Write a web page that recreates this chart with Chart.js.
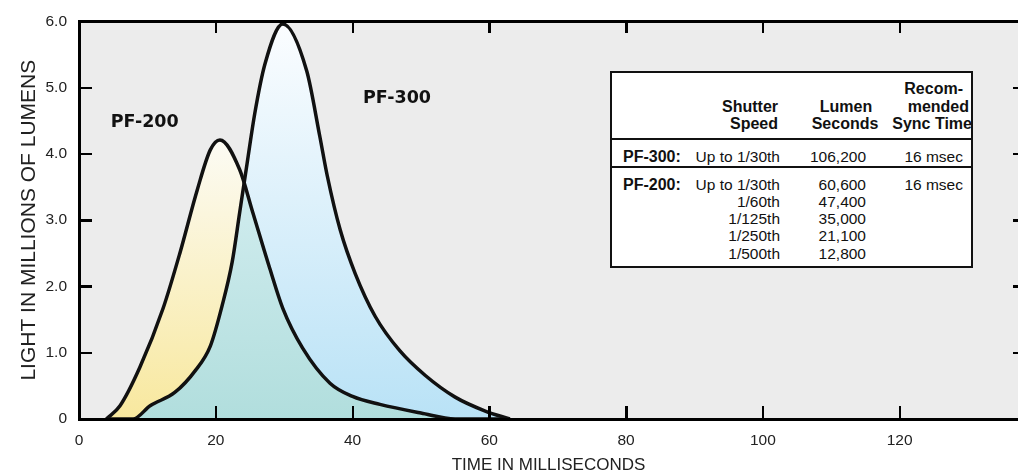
<!DOCTYPE html>
<html>
<head>
<meta charset="utf-8">
<script src="https://cdn.jsdelivr.net/npm/chart.js@4.4.1/dist/chart.umd.min.js"></script>
<style>
    html, body { margin: 0; padding: 0; background: #fff; }
    #wrap { position: relative; width: 1018px; height: 472px; overflow: hidden; }
    #flashChart { position: absolute; left: 0; top: 0; }
    #frame { position: absolute; left: 0; top: 0; width: 1018px; height: 472px; pointer-events: none; }
    #frame div { position: absolute; background: #000; }
    #lumenTable { position: absolute; left: 610px; top: 71px; width: 359px; height: 193px; border: 2px solid #111; background: #fff; }
    .cell { position: absolute; white-space: nowrap; font-family: "Liberation Sans", Arial, sans-serif; font-size: 15.5px; line-height: 17px; color: #111; }
    .bold { font-weight: bold; font-size: 16px; }
    .rule { position: absolute; left: 610px; width: 363px; height: 2px; background: #111; }
    #err { position: absolute; left: 620px; top: 300px; width: 390px; font: 12px monospace; color: #c00; }
</style>
</head>
<body>
<div id="wrap">
    <canvas id="flashChart" width="1018" height="472"></canvas>
    <div id="frame"></div>
    <div id="lumenTable"></div>
    <div id="err"></div>
</div>
<script>
window.addEventListener('error', (e) => {
    document.getElementById('err').textContent += ' ERR: ' + e.message;
});

// light output curves (time in ms, light in millions of lumens)
const pf300Time  = [4, 7.9, 10.4, 14.0, 17.0, 19.2, 20.9, 22.4, 23.5, 24.6, 25.7, 27.2, 29.8, 33.3, 35.2, 36.3, 38.2, 40.4, 43.3, 46.9, 50.6, 55.0, 59.4, 63];
const pf300Light = [0, 0, 0.20, 0.40, 0.73, 1.10, 1.70, 2.37, 3.12, 3.87, 4.61, 5.36, 5.96, 5.25, 4.27, 3.67, 2.85, 2.19, 1.55, 1.03, 0.66, 0.33, 0.12, 0];

const pf200Time  = [4, 6.0, 8.9, 12.3, 14.8, 17.3, 19.2, 20.6, 23.5, 25.4, 27.9, 29.8, 32.7, 36.7, 40.0, 44.0, 50.0, 55, 63];
const pf200Light = [0, 0.20, 0.78, 1.67, 2.52, 3.46, 4.06, 4.21, 3.76, 3.12, 2.27, 1.67, 1.07, 0.54, 0.34, 0.22, 0.09, 0, 0];

const xTicks = [0, 20, 40, 60, 80, 100, 120];
const yTicks = [0, 1, 2, 3, 4, 5, 6];

const curveLabels = ['PF-200', 'PF-300'];
const curveLabelX = [9.6, 46.5];
const curveLabelY = [4.47, 4.84];

// table
const headShutter = ['Shutter', 'Speed'];
const headLumens = ['Lumen', 'Seconds'];
const headSync = ['Recom-', 'mended', 'Sync Time'];
const pf300Shutter = ['Up to 1/30th'];
const pf300Lumens = ['106,200'];
const pf300Sync = ['16 msec'];
const pf200Shutter = ['Up to 1/30th', '1/60th', '1/125th', '1/250th', '1/500th'];
const pf200Lumens = ['60,600', '47,400', '35,000', '21,100', '12,800'];
const pf200Sync = ['16 msec', '', '', '', ''];

function toPoints(xs, ys) {
    return xs.map((x, i) => ({ x: x, y: ys[i] }));
}

// vertical gradient from the curve's peak value down to zero
function vGrad(chart, peak, top, bottom) {
    const y = chart.scales && chart.scales.y;
    if (!chart.chartArea || !y) return bottom;
    const g = chart.ctx.createLinearGradient(0, y.getPixelForValue(peak), 0, y.getPixelForValue(0));
    g.addColorStop(0, top);
    g.addColorStop(1, bottom);
    return g;
}

// --- table built as html text
const wrap = document.getElementById('wrap');
function cell(text, opts) {
    const d = document.createElement('div');
    d.className = 'cell' + (opts.bold ? ' bold' : '');
    d.textContent = text;
    d.style.top = (opts.cy - 8.5) + 'px';
    if (opts.right !== undefined) d.style.right = (1018 - opts.right) + 'px';
    if (opts.left !== undefined) d.style.left = opts.left + 'px';
    if (opts.center !== undefined) { d.style.left = (opts.center - 60) + 'px'; d.style.width = '120px'; d.style.textAlign = 'center'; }
    wrap.appendChild(d);
}
function rule(y) {
    const d = document.createElement('div');
    d.className = 'rule';
    d.style.top = y + 'px';
    wrap.appendChild(d);
}

cell(headSync[0], { bold: true, right: 963, cy: 88 });
cell(headShutter[0], { bold: true, right: 778, cy: 106 });
cell(headLumens[0], { bold: true, center: 846, cy: 106 });
cell(headSync[1], { bold: true, right: 969, cy: 106 });
cell(headShutter[1], { bold: true, right: 778, cy: 123 });
cell(headLumens[1], { bold: true, center: 845, cy: 123 });
cell(headSync[2], { bold: true, right: 972, cy: 123 });
rule(138);
cell('PF-300:', { bold: true, left: 623, cy: 156 });
pf300Shutter.forEach((t, i) => cell(t, { right: 780, cy: 156 + i * 17.3 }));
pf300Lumens.forEach((t, i) => cell(t, { right: 866, cy: 156 + i * 17.3 }));
pf300Sync.forEach((t, i) => cell(t, { right: 963, cy: 156 + i * 17.3 }));
rule(166);
cell('PF-200:', { bold: true, left: 623, cy: 184 });
pf200Shutter.forEach((t, i) => cell(t, { right: 780, cy: 184 + i * 17.3 }));
pf200Lumens.forEach((t, i) => cell(t, { right: 866, cy: 184 + i * 17.3 }));
pf200Sync.forEach((t, i) => { if (t) cell(t, { right: 963, cy: 184 + i * 17.3 }); });

// frame and inward tick marks as html bars placed from the chart's scales
const frameBox = document.getElementById('frame');
function bar(x, y, w, h) {
    const d = document.createElement('div');
    d.style.left = x + 'px';
    d.style.top = y + 'px';
    d.style.width = w + 'px';
    d.style.height = h + 'px';
    frameBox.appendChild(d);
}
function buildFrame(chart) {
    const sx = chart.scales.x, sy = chart.scales.y;
    const L = sx.getPixelForValue(0);
    const T = sy.getPixelForValue(6);
    const B = sy.getPixelForValue(0);
    const R = 1018;
    frameBox.innerHTML = '';
    bar(L - 1.5, T - 1.5, R - L + 2, 3);
    bar(L - 1.5, B - 1.5, R - L + 2, 3);
    bar(L - 1.5, T - 1.5, 3, B - T + 3);
    xTicks.forEach(v => {
        if (v === 0) return;
        const px = sx.getPixelForValue(v);
        bar(px - 1, B - 13, 2.5, 13);
        bar(px - 1, T, 2.5, 12);
    });
    yTicks.forEach(v => {
        if (v === 0 || v === 6) return;
        const py = sy.getPixelForValue(v);
        bar(L, py - 1, 13, 2.5);
        bar(R - 5, py - 1, 5, 2.5);
    });
}

// --- plugins
const plotBackground = {
    id: 'plotBackground',
    beforeDraw(chart) {
        const { ctx, chartArea: a } = chart;
        ctx.save();
        ctx.fillStyle = '#ececec';
        ctx.fillRect(a.left, a.top, a.right - a.left, a.bottom - a.top);
        ctx.restore();
    }
};

const curveNames = {
    id: 'curveNames',
    afterDatasetsDraw(chart) {
        const c = chart.ctx;
        const sx = chart.scales.x, sy = chart.scales.y;
        c.save();
        c.fillStyle = '#111';
        c.font = 'bold 17.5px "DejaVu Sans", sans-serif';
        c.textAlign = 'center';
        c.textBaseline = 'middle';
        curveLabels.forEach((t, i) => {
            c.fillText(t, sx.getPixelForValue(curveLabelX[i]), sy.getPixelForValue(curveLabelY[i]));
        });
        c.restore();
    },
    afterRender(chart) {
        try { buildFrame(chart); } catch (e) { document.getElementById('err').textContent += ' FRAME: ' + e.message; }
    }
};

const axisFont = { family: '"Liberation Sans", Arial', size: 15.5 };

try {
    new Chart(document.getElementById('flashChart').getContext('2d'), {
        type: 'line',
        data: {
            datasets: [
                {
                    label: 'PF-300',
                    data: toPoints(pf300Time, pf300Light),
                    borderColor: '#111',
                    borderWidth: 3.5,
                    pointRadius: 0,
                    cubicInterpolationMode: 'monotone',
                    fill: (c) => ({
                        target: 1,
                        above: vGrad(c.chart, Math.max(...pf300Light), '#fbfdff', '#b9e2f6'),
                        below: vGrad(c.chart, Math.max(...pf200Light), '#fcfbf4', '#f8e89e')
                    })
                },
                {
                    label: 'PF-200',
                    data: toPoints(pf200Time, pf200Light),
                    borderColor: '#111',
                    borderWidth: 3.5,
                    pointRadius: 0,
                    cubicInterpolationMode: 'monotone',
                    backgroundColor: (c) => vGrad(c.chart, Math.max(...pf200Light), '#d7eff2', '#b1dedd'),
                    fill: 'origin'
                }
            ]
        },
        options: {
            responsive: false,
            animation: false,
            layout: {
                padding: { top: 17, right: 0, bottom: 0, left: 0 }
            },
            plugins: {
                legend: { display: false },
                tooltip: { enabled: false },
                filler: { drawTime: 'beforeDatasetsDraw' }
            },
            scales: {
                x: {
                    type: 'linear',
                    min: 0,
                    max: 137.3,
                    afterFit(scale) { scale.height = 53; },
                    grid: { display: false, drawTicks: false },
                    border: { display: false },
                    ticks: {
                        stepSize: 20,
                        includeBounds: false,
                        padding: 12,
                        color: '#222',
                        font: axisFont
                    },
                    title: {
                        display: true,
                        text: 'TIME IN MILLISECONDS',
                        color: '#222',
                        font: { family: '"Liberation Sans", Arial', size: 17, lineHeight: 1 },
                        padding: { top: 0, bottom: -2 }
                    }
                },
                y: {
                    min: 0,
                    max: 6,
                    afterFit(scale) { scale.width = 79; },
                    grid: { display: false, drawTicks: false },
                    border: { display: false },
                    ticks: {
                        stepSize: 1,
                        padding: 12,
                        color: '#222',
                        font: axisFont,
                        callback: (v) => v === 0 ? '0' : v.toFixed(1)
                    },
                    title: {
                        display: true,
                        text: 'LIGHT IN MILLIONS OF LUMENS',
                        color: '#222',
                        font: { family: '"Liberation Sans", Arial', size: 21, lineHeight: 1 },
                        padding: { top: 19, bottom: 0 }
                    }
                }
            }
        },
        plugins: [plotBackground, curveNames]
    });
} catch (e) {
    document.getElementById('err').textContent += ' CHART: ' + e.message;
}
</script>
</body>
</html>
